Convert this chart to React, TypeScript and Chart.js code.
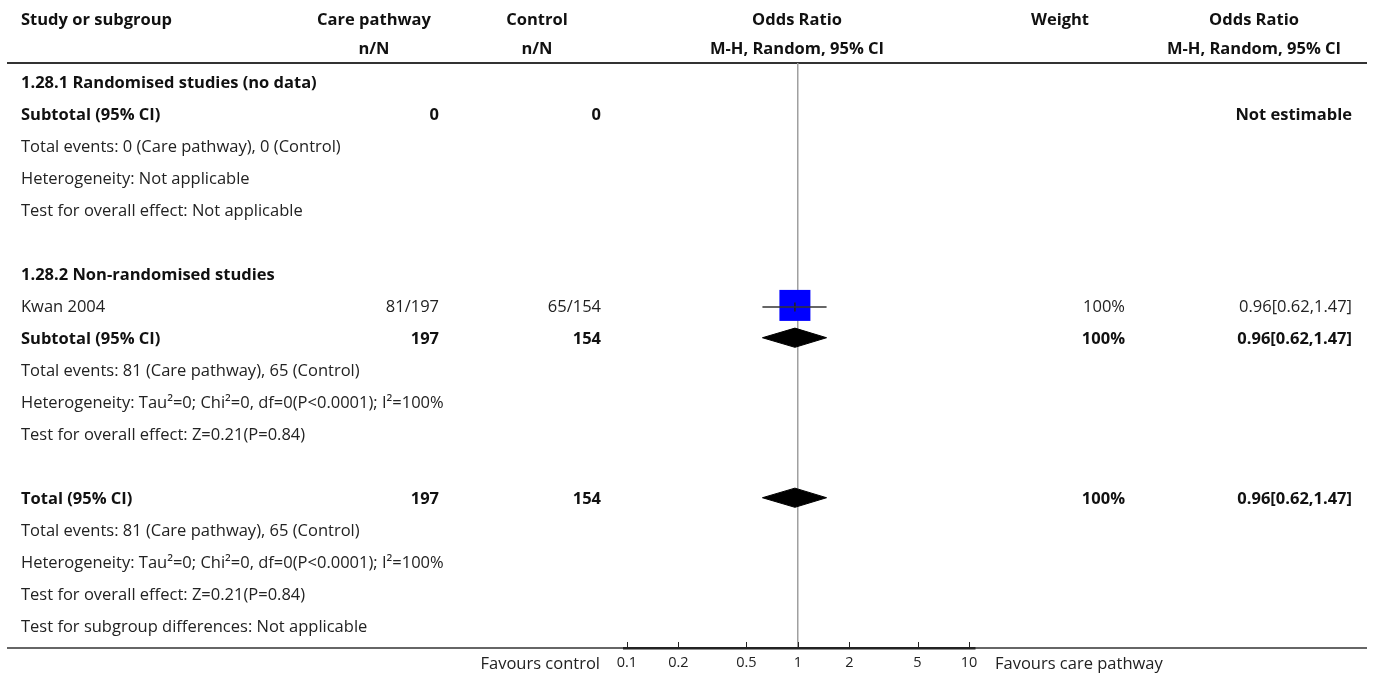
import React, { useEffect, useRef } from "react";
import { Chart, registerables } from "chart.js";

Chart.register(...registerables);

// ---------- DATA ----------
const rowLabels: string[] = [
  "1.28.1 Randomised studies (no data)",
  "Subtotal (95% CI)",
  "Total events: 0 (Care pathway), 0 (Control)",
  "Heterogeneity: Not applicable",
  "Test for overall effect: Not applicable",
  "",
  "1.28.2 Non-randomised studies",
  "Kwan 2004",
  "Subtotal (95% CI)",
  "Total events: 81 (Care pathway), 65 (Control)",
  "Heterogeneity: Tau²=0; Chi²=0, df=0(P<0.0001); I²=100%",
  "Test for overall effect: Z=0.21(P=0.84)",
  "",
  "Total (95% CI)",
  "Total events: 81 (Care pathway), 65 (Control)",
  "Heterogeneity: Tau²=0; Chi²=0, df=0(P<0.0001); I²=100%",
  "Test for overall effect: Z=0.21(P=0.84)",
  "Test for subgroup differences: Not applicable",
];
const boldRows: number[] = [0, 1, 6, 8, 13];
const carePathwayCol: string[] = ["", "0", "", "", "", "", "", "81/197", "197", "", "", "", "", "197", "", "", "", ""];
const controlCol: string[] = ["", "0", "", "", "", "", "", "65/154", "154", "", "", "", "", "154", "", "", "", ""];
const weightCol: string[] = ["", "", "", "", "", "", "", "100%", "100%", "", "", "", "", "100%", "", "", "", ""];
const orCol: string[] = ["", "Not estimable", "", "", "", "", "", "0.96[0.62,1.47]", "0.96[0.62,1.47]", "", "", "", "", "0.96[0.62,1.47]", "", "", "", ""];

// study estimates
const studyRows: number[] = [7];
const studyOR: number[] = [0.96];
const studyLo: number[] = [0.62];
const studyHi: number[] = [1.47];
const studyWeight: number[] = [100];

// pooled (diamond) estimates
const pooledRows: number[] = [8, 13];
const pooledOR: number[] = [0.96, 0.96];
const pooledLo: number[] = [0.62, 0.62];
const pooledHi: number[] = [1.47, 1.47];

const xTicks: number[] = [0.1, 0.2, 0.5, 1, 2, 5, 10];

const headerTop: string[] = ["Study or subgroup", "Care pathway", "Control", "Odds Ratio", "Weight", "Odds Ratio"];
const headerBottom: string[] = ["", "n/N", "n/N", "M-H, Random, 95% CI", "", "M-H, Random, 95% CI"];
const favoursLeft = "Favours control";
const favoursRight = "Favours care pathway";

// ---------- LAYOUT ----------
const W = 1375;
const H = 677;
const FONT = "'Open Sans'";
const FS = 16.5;
const FSB = 16.5;

const App: React.FC = () => {
  const ref = useRef<HTMLCanvasElement | null>(null);

  useEffect(() => {
    if (!ref.current) return;

    const datasets: any[] = [];
    studyRows.forEach((r, i) => {
      datasets.push({
        type: "scatter",
        showLine: true,
        data: [
          { x: studyLo[i], y: r },
          { x: studyHi[i], y: r },
        ],
        borderColor: "#333",
        borderWidth: 1.5,
        pointRadius: 0,
        order: 0,
      });
      datasets.push({
        type: "scatter",
        data: [{ x: studyOR[i], y: r }],
        pointStyle: "line",
        rotation: 90,
        pointRadius: 4.5,
        borderColor: "#222",
        borderWidth: 1.5,
        order: 0,
      });
      datasets.push({
        type: "scatter",
        data: [{ x: studyOR[i], y: r - 0.05 }],
        pointStyle: "rect",
        pointRadius: (31 / Math.SQRT2) * Math.sqrt(studyWeight[i] / 100),
        backgroundColor: "#0000ff",
        borderColor: "#0000ff",
        borderWidth: 0,
        order: 2,
      });
    });
    pooledRows.forEach((r, i) => {
      const yy = r - 0.04;
      datasets.push({
        type: "scatter",
        showLine: true,
        fill: "shape",
        tension: 0,
        data: [
          { x: pooledLo[i], y: yy },
          { x: pooledOR[i], y: yy - 0.3 },
          { x: pooledHi[i], y: yy },
          { x: pooledOR[i], y: yy + 0.3 },
          { x: pooledLo[i], y: yy },
        ],
        borderColor: "#000",
        backgroundColor: "#000",
        borderWidth: 1,
        pointRadius: 0,
        order: 1,
      });
    });

    const textPlugin = {
      id: "forestText",
      beforeDraw(chart: any) {
        const c = chart.ctx;
        c.save();
        c.strokeStyle = "#333";
        c.lineWidth = 2;
        c.beginPath();
        c.moveTo(7, 63);
        c.lineTo(1367, 63);
        c.stroke();
        c.lineWidth = 1.5;
        c.beginPath();
        c.moveTo(7, chart.chartArea.bottom);
        c.lineTo(1367, chart.chartArea.bottom);
        c.stroke();
        c.restore();
      },
      afterDraw(chart: any) {
        const c = chart.ctx;
        const ys = chart.scales.y;
        const xs = chart.scales.x;
        c.save();
        c.textBaseline = "middle";
        c.fillStyle = "#111";
        c.font = `bold ${FSB}px ${FONT}`;
        const hx = [21, 374, 537, 797, 1060, 1254];
        const ha: CanvasTextAlign[] = ["left", "center", "center", "center", "center", "center"];
        headerTop.forEach((t, i) => {
          c.textAlign = ha[i];
          c.fillText(t, hx[i], 20);
        });
        headerBottom.forEach((t, i) => {
          if (!t) return;
          c.textAlign = ha[i];
          c.fillText(t, hx[i], 49);
        });
        rowLabels.forEach((lab, i) => {
          const py = ys.getPixelForValue(i);
          const bold = boldRows.includes(i);
          c.font = bold ? `bold ${FSB}px ${FONT}` : `${FS}px ${FONT}`;
          c.fillStyle = bold ? "#111" : "#222";
          c.textAlign = "left";
          if (lab) c.fillText(lab, 21, py);
          c.textAlign = "right";
          if (carePathwayCol[i]) c.fillText(carePathwayCol[i], 439, py);
          if (controlCol[i]) c.fillText(controlCol[i], 601, py);
          if (weightCol[i]) c.fillText(weightCol[i], 1125, py);
          if (orCol[i]) c.fillText(orCol[i], 1352, py);
        });
        const by = chart.chartArea.bottom;
        c.strokeStyle = "#222";
        c.lineWidth = 1;
        xTicks.forEach((v) => {
          const px = Math.round(xs.getPixelForValue(v)) + 0.5;
          c.beginPath();
          c.moveTo(px, by);
          c.lineTo(px, by - 6);
          c.stroke();
        });
        c.font = `${FS}px ${FONT}`;
        c.fillStyle = "#222";
        c.textAlign = "right";
        c.fillText(favoursLeft, 600, 664);
        c.textAlign = "left";
        c.fillText(favoursRight, 995, 664);
        c.restore();
      },
    };

    const chart = new Chart(ref.current, {
      type: "scatter",
      data: { datasets },
      options: {
        animation: false,
        responsive: false,
        maintainAspectRatio: false,
        layout: { padding: { left: 624, right: W - 975, top: 63, bottom: 0 } },
        plugins: { legend: { display: false }, tooltip: { enabled: false } },
        scales: {
          x: {
            type: "logarithmic",
            min: 0.0962,
            max: 10.84,
            afterBuildTicks: (s: any) => {
              s.ticks = xTicks.map((v) => ({ value: v }));
            },
            afterFit: (s: any) => {
              s.height = 29;
            },
            ticks: {
              autoSkip: false,
              maxRotation: 0,
              padding: 6,
              color: "#222",
              font: { family: "Open Sans", size: 14.5 },
              callback: (v: any) => String(v),
            },
            grid: {
              drawTicks: false,
              drawOnChartArea: true,
              lineWidth: 1.5,
              color: (ctx: any) => (ctx.tick && ctx.tick.value === 1 ? "#a0a0a0" : "rgba(0,0,0,0)"),
            },
            border: { display: true, color: "#222", width: 2.5 },
          },
          y: {
            type: "linear",
            reverse: true,
            min: -0.625,
            max: 17.656,
            display: false,
          },
        },
      },
      plugins: [textPlugin],
    } as any);

    return () => chart.destroy();
  }, []);

  return (
    <div style={{ position: "fixed", left: 0, top: 0, width: W, height: H, background: "#fff" }}>
      <canvas ref={ref} width={W} height={H} style={{ width: W, height: H, display: "block" }} />
    </div>
  );
};

export default App;
